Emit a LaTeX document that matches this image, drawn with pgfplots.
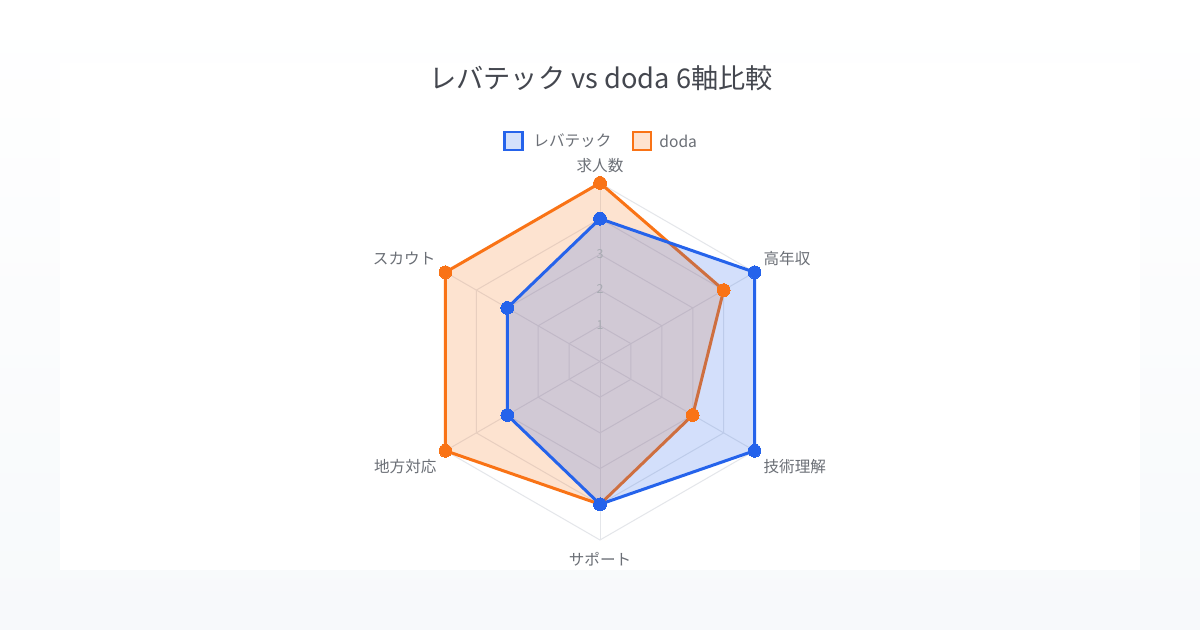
\documentclass[border=0pt]{standalone}
\usepackage{fontspec}
\setmainfont{Noto Sans CJK JP}
\usepackage{pgfplots}
\pgfplotsset{compat=1.18}
\usepackage{pgfplotstable}
\definecolor{cblue}{HTML}{2563EB}
\definecolor{corange}{HTML}{F97316}
\definecolor{gridc}{HTML}{E4E6EA}
\definecolor{bgc}{HTML}{F7F9FB}
\definecolor{titlec}{HTML}{44474F}
\definecolor{labc}{HTML}{6B6F76}
\definecolor{tickc}{HTML}{A8ABB2}

% angle (deg), value
\pgfplotstableread{
angle r
90 4
30 5
-30 5
-90 4
-150 3
150 3
90 4
}\levtech
\pgfplotstableread{
angle r
90 5
30 4
-30 3
-90 4
-150 5
150 5
90 5
}\doda
\pgfplotstableread{
angle r
90 1
30 1
-30 1
-90 1
-150 1
150 1
90 1
}\hexagon

\begin{document}
\begin{tikzpicture}
\useasboundingbox (0,0) rectangle (600pt,315pt);
\shade[top color=white, bottom color=bgc] (0,0) rectangle (600pt,315pt);
\fill[white] (30pt,30pt) rectangle (570pt,283.5pt);
\node[text=titlec, font=\fontsize{13.6pt}{15pt}\selectfont] at (300.5pt,276pt) {レバテック vs doda 6軸比較};
% legend
\draw[cblue, line width=1.3pt, fill=cblue!20] (252.25pt,240pt) rectangle (261.25pt,249pt);
\node[anchor=west, text=labc, inner sep=0pt, font=\fontsize{7.8pt}{9pt}\selectfont] at (266.5pt,244.5pt) {レバテック};
\draw[corange, line width=1.3pt, fill=corange!20] (316.5pt,240pt) rectangle (325.5pt,249pt);
\node[anchor=west, text=labc, inner sep=0pt, font=\fontsize{7.8pt}{9pt}\selectfont] at (329.5pt,244.5pt) {doda};
\begin{axis}[
  at={(300pt,134.25pt)}, anchor=center,
  x=17.85pt, y=17.85pt,
  xmin=-8, xmax=8, ymin=-8, ymax=8,
  hide axis, clip=false,
]
% grid rings
\pgfplotsinvokeforeach{1,2,3,4,5}{
  \addplot[gridc, line width=0.5pt, forget plot] table[x expr={#1*cos(\thisrow{angle})}, y expr={#1*sin(\thisrow{angle})}]{\hexagon};
}
% spokes
\pgfplotsinvokeforeach{90,30,-30,-90,-150,150}{
  \draw[gridc, line width=0.5pt] (axis cs:0,0) -- (axis cs:{5*cos(#1)},{5*sin(#1)});
}
% doda
\addplot[draw=none, fill=corange, fill opacity=0.2, forget plot] table[x expr={\thisrow{r}*cos(\thisrow{angle})}, y expr={\thisrow{r}*sin(\thisrow{angle})}]{\doda};
\addplot[corange, line width=1.5pt, line join=round, mark=*, mark size=3.2pt, mark options={fill=corange, draw=corange, line width=0pt}] table[x expr={\thisrow{r}*cos(\thisrow{angle})}, y expr={\thisrow{r}*sin(\thisrow{angle})}]{\doda};
% levtech
\addplot[draw=none, fill=cblue, fill opacity=0.2, forget plot] table[x expr={\thisrow{r}*cos(\thisrow{angle})}, y expr={\thisrow{r}*sin(\thisrow{angle})}]{\levtech};
\addplot[cblue, line width=1.5pt, line join=round, mark=*, mark size=3.2pt, mark options={fill=cblue, draw=cblue, line width=0pt}] table[x expr={\thisrow{r}*cos(\thisrow{angle})}, y expr={\thisrow{r}*sin(\thisrow{angle})}]{\levtech};
% tick labels
\pgfplotsinvokeforeach{1,2,3}{
  \node[text=tickc, inner sep=0pt, font=\fontsize{6.2pt}{7pt}\selectfont] at (axis cs:0,{#1+0.02}) {#1};
}
% axis labels
\node[text=labc, font=\fontsize{7.8pt}{9pt}\selectfont, inner sep=0pt] at (axis cs:0,5.5) {求人数};
\node[text=labc, font=\fontsize{7.8pt}{9pt}\selectfont, inner sep=0pt, anchor=west] at (axis cs:4.57,2.88) {高年収};
\node[text=labc, font=\fontsize{7.8pt}{9pt}\selectfont, inner sep=0pt, anchor=west] at (axis cs:4.57,-2.93) {技術理解};
\node[text=labc, font=\fontsize{7.8pt}{9pt}\selectfont, inner sep=0pt] at (axis cs:0,-5.53) {サポート};
\node[text=labc, font=\fontsize{7.8pt}{9pt}\selectfont, inner sep=0pt, anchor=east] at (axis cs:-4.57,-2.93) {地方対応};
\node[text=labc, font=\fontsize{7.8pt}{9pt}\selectfont, inner sep=0pt, anchor=east] at (axis cs:-4.6,2.88) {スカウト};
\end{axis}
\end{tikzpicture}
\end{document}
